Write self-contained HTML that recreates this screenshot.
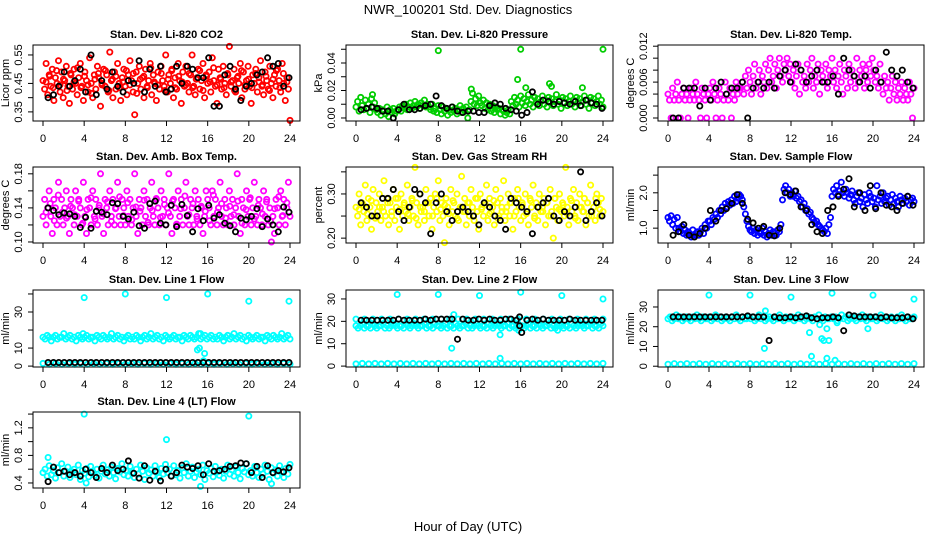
<!DOCTYPE html>
<html><head><meta charset="utf-8">
<style>
html,body{margin:0;padding:0;background:#fff;}
svg{display:block;font-family:"Liberation Sans",sans-serif;}
</style></head>
<body>
<svg id="chart" width="936" height="540" viewBox="0 0 936 540" xmlns="http://www.w3.org/2000/svg">
<rect width="936" height="540" fill="#fff"/>
<text x="468" y="14" text-anchor="middle" font-size="13">NWR_100201 Std. Dev. Diagnostics</text>
<text x="468" y="531" text-anchor="middle" font-size="13">Hour of Day (UTC)</text>
<g id="panels"></g>
</svg>
<script>
// ---------- data ----------
const xTicks = [0,4,8,12,16,20,24];

const co2Red = [.46,.43,.52,.41,.48,.44,.50,.39,.47,.45,.53,.42,.49,.40,.46,.51,.44,.38,.48,.43,
.50,.45,.41,.47,.52,.44,.39,.49,.46,.42,.54,.45,.40,.48,.43,.51,.47,.37,.45,.50,
.44,.48,.42,.56,.46,.40,.49,.43,.52,.45,.39,.47,.50,.44,.41,.48,.53,.46,.42,.34,
.49,.45,.51,.43,.47,.40,.50,.44,.46,.52,.41,.48,.45,.39,.49,.43,.51,.46,.44,.55,
.42,.48,.45,.50,.40,.47,.43,.52,.46,.38,.49,.44,.51,.45,.42,.48,.55,.44,.41,.47,
.50,.43,.46,.52,.40,.48,.45,.49,.42,.54,.46,.44,.38,.50,.47,.43,.51,.45,.41,.48,
.58,.44,.46,.50,.42,.47,.45,.52,.40,.49,.43,.46,.51,.44,.38,.48,.45,.50,.42,.47,
.53,.44,.41,.49,.46,.43,.51,.45,.40,.48,.44,.50,.46,.42,.52,.45,.39,.47,.43,.32];
const co2Red2 = [.455,.475,.435,.495,.445,.465,.425,.485,.455,.505,.435,.475,.445,.415,.465,.485,.445,.495,.425,.465,
.475,.435,.455,.495,.445,.485,.415,.465,.475,.435,.505,.455,.445,.485,.425,.465,.495,.435,.475,.455,
.445,.485,.435,.465,.495,.425,.475,.455,.505,.445,.465,.435,.485,.455,.425,.475,.495,.445,.465,.435,
.485,.455,.445,.475,.425,.465,.495,.435,.485,.455];
const co2Black = [.40,.41,.44,.49,.44,.46,.50,.42,.55,.41,.46,.43,.49,.44,.42,.46,.45,.53,.42,.50,.44,.51,.42,.43,.51,.45,.51,.50,.47,.47,.54,.37,.37,.48,.51,.43,.39,.44,.45,.48,.49,.54,.51,.52,.44,.47];

const presGreen = [.008,.012,.005,.015,.009,.006,.013,.007,.010,.004,.014,.008,.011,.006,
.004,.007,.002,.006,.005,.003,.008,.001,.006,.004,.007,.003,.005,
.006,.008,.005,.009,.007,.010,.006,.008,.011,.007,.009,.012,.008,.010,.007,.011,.009,.013,.008,.010,
.008,.006,.010,.005,.007,.004,.009,.006,.003,.008,.005,.007,.002,.006,.004,.008,.005,.007,.003,.006,.009,.004,.007,.005,.008,.000,.006,
.012,.018,.010,.014,.009,.016,.011,
.009,.013,.007,.011,.006,.010,.005,.009,.004,.008,.006,.007,.003,.006,.005,.002,.004,.006,.003,
.012,.009,.015,.010,.013,.008,.016,.011,.014,.009,.012,.017,.010,.013,.008,.015,.011,.014,.009,.012,.016,.010,.013,.008,.015,.011,.014,.009,.012,.017,.010,.013,.007,.015,.011,.014,.009,.012,.016,.010,.013,.008,.015,.011,.014,.009,.012,.016,.010,.013,.007,.015,.011,.014,.009,.012,.016,.010,.013,.008];
const presOutHours = [8,15.7,16,18.8,19,22,24,11.2,1.6,16.5];
const presOutVals = [.049,.028,.050,.025,.023,.022,.050,.021,.017,.022];
const presBlack = [.006,.007,.008,.007,.005,.005,.000,.006,.010,.006,.006,.007,.009,.010,.016,.009,.007,.008,.005,.004,.005,.005,.004,.004,.009,.011,.010,.007,.006,.005,.002,.004,.019,.010,.013,.012,.010,.012,.011,.010,.012,.009,.013,.011,.010,.007];

const tempMag = [.004,.003,.000,.005,.003,.004,.006,.003,.000,.004,.005,.003,.004,.000,.003,.005,.004,.003,.006,.004,.003,.000,.005,.004,.003,.000,.004,.005,.003,.006,.004,.000,.003,.005,.004,.000,.003,.006,.004,.003,.005,.000,.004,.003,.006,.004,.005,
.005,.006,.004,.007,.005,.008,.006,.004,.007,.009,.005,.006,.008,.004,.007,.006,.009,.005,.008,.010,.006,.007,.009,.005,.008,.010,.007,.006,.009,.008,.010,.007,.009,
.006,.008,.005,.007,.009,.004,.008,.006,.007,.005,.009,.006,.008,.010,.005,.007,.006,.009,.004,.008,.007,.006,.009,.005,.008,.007,.010,.006,.008,.005,.007,.009,.006,.004,.008,.007,.005,.009,.006,.008,.007,.005,.010,.006,.008,.007,.009,.005,.008,.006,.009,.007,.010,
.008,.006,.007,.005,.009,.006,.004,.007,.005,.006,.003,.005,.007,.004,.006,.003,.005,.004,.006,.003,.005,.004,.003,.006,.004,.000,.005];
const tempBlack = [.000,.000,.005,.005,.005,.002,.005,.003,.005,.006,.004,.005,.005,.006,.000,.005,.006,.005,.006,.005,.007,.008,.006,.009,.008,.006,.007,.008,.006,.006,.007,.004,.010,.008,.007,.006,.007,.005,.008,.006,.011,.008,.007,.008,.006,.005];

const ambMag = [.13,.15,.12,.14,.16,.13,.11,.15,.14,.12,.17,.13,.15,.12,.14,.16,.13,.11,.15,.14,
.12,.16,.13,.15,.14,.12,.17,.13,.11,.15,.14,.12,.16,.13,.15,.12,.14,.18,.13,.11,
.15,.14,.12,.16,.13,.15,.12,.14,.17,.13,.12,.15,.14,.12,.16,.13,.15,.12,.14,.18,
.13,.11,.15,.14,.12,.16,.13,.15,.12,.14,.17,.13,.12,.15,.14,.12,.16,.13,.15,.12,
.14,.18,.13,.11,.15,.14,.12,.16,.13,.15,.12,.14,.17,.13,.12,.15,.14,.12,.16,.13,
.15,.12,.14,.11,.13,.16,.15,.14,.12,.16,.13,.15,.12,.14,.17,.13,.12,.15,.14,.12,
.16,.13,.15,.12,.14,.18,.13,.11,.15,.14,.12,.16,.13,.15,.12,.14,.17,.13,.12,.15,
.14,.12,.16,.13,.15,.12,.14,.10,.13,.11,.15,.14,.12,.16,.13,.15,.12,.14,.17,.13];
const ambMag2 = [.135,.145,.125,.155,.135,.128,.142,.132,.148,.122,.138,.152,.127,.143,.133,.147,.124,.139,.153,.131,.146,.126,.141,.136,.149,.123,.137,.151,.129,.144,.134,.148,.121,.139,.154,.132,.145,.127,.142,.136,
.125,.155,.135,.145,.128,.142,.132,.148,.122,.138,.152,.127,.143,.133,.147,.124,.139,.153,.131,.146];
const ambBlack = [.140,.137,.132,.134,.133,.130,.117,.129,.116,.136,.135,.132,.146,.145,.130,.127,.135,.119,.116,.145,.148,.122,.120,.143,.118,.144,.131,.112,.139,.125,.143,.128,.132,.122,.119,.112,.128,.126,.130,.139,.118,.127,.120,.112,.141,.135];

const rhYellow = [.27,.25,.30,.23,.28,.26,.32,.24,.29,.27,.22,.31,.25,.28,.26,.30,.24,.27,.33,.25,
.29,.23,.28,.26,.31,.24,.27,.29,.22,.30,.25,.28,.26,.32,.24,.27,.29,.25,.36,.28,
.23,.30,.26,.27,.24,.31,.28,.25,.29,.22,.27,.30,.26,.33,.24,.28,.25,.19,.29,.27,
.23,.31,.26,.28,.25,.30,.24,.27,.34,.26,.29,.23,.28,.25,.31,.27,.24,.29,.26,.22,
.30,.27,.25,.28,.32,.24,.29,.26,.27,.23,.31,.28,.25,.29,.26,.33,.24,.27,.30,.25,
.28,.22,.29,.26,.31,.27,.24,.28,.25,.30,.26,.23,.29,.27,.32,.25,.28,.24,.30,.26,
.27,.29,.23,.28,.25,.31,.26,.20,.29,.27,.24,.30,.26,.28,.25,.36,.27,.23,.29,.26,
.31,.25,.28,.24,.30,.27,.26,.29,.23,.28,.25,.32,.26,.27,.24,.30,.28,.25,.29,.26];
const rhYellow2 = [.265,.275,.255,.285,.245,.27,.26,.28,.25,.29,.265,.275,.255,.285,.245,.27,.26,.28,.25,.29,.265,.275,.255,.285,.245,.27,.26,.28,.25,.29,.265,.275,.255,.285,.245,.27,.26,.28,.25,.29,
.275,.255,.285,.245,.27,.26,.28,.25,.29,.265,.275,.255,.285,.245,.27,.26,.28,.25,.29,.265];
const rhBlack = [.28,.27,.25,.25,.29,.29,.31,.26,.24,.27,.31,.30,.28,.21,.28,.30,.26,.24,.26,.27,.26,.25,.23,.28,.27,.25,.24,.22,.29,.28,.27,.26,.21,.27,.28,.29,.25,.24,.26,.25,.27,.35,.24,.26,.28,.25];

const flowBlue = [1.3,1.2,1.35,1.1,1.25,1.0,1.3,
1.0,0.9,1.05,0.85,0.95,0.8,0.9,0.85,0.75,0.95,0.8,0.85,0.9,0.8,
0.9,1.0,0.85,1.1,1.0,1.2,
1.2,1.1,1.3,1.25,1.4,1.3,1.5,1.4,1.6,1.5,1.7,1.6,1.75,1.65,1.8,1.7,1.9,1.75,1.85,1.95,
1.9,1.8,1.6,1.4,1.2,1.05,
0.95,0.9,1.0,0.85,0.95,0.8,0.9,0.85,1.0,0.8,0.9,0.75,0.85,0.95,0.8,0.9,0.85,0.8,0.95,0.9,1.1,
1.8,2.1,2.2,2.0,2.1,1.9,
2.0,1.9,2.05,1.85,1.9,1.75,1.8,1.6,1.7,1.5,1.55,1.4,1.45,1.3,1.25,1.15,1.2,1.1,1.05,1.0,
0.95,0.9,1.0,0.85,1.1,1.3,
1.9,2.1,2.0,2.2,1.95,2.05,2.3,2.0,1.9,2.1,2.0,1.85,1.95,2.05,1.8,1.7,1.9,2.0,1.75,1.85,1.6,1.95,1.8,1.7,2.0,1.9,1.75,1.85,1.6,2.2,1.8,1.9,1.7,2.0,1.75,1.85,1.9,1.65,1.8,1.95,1.7,1.85,1.75,1.6,1.9,1.8,1.7,1.85,1.75,1.9,1.65,1.8,1.85,1.75];
const flowBlack = [0.8,0.9,1.1,0.8,0.75,0.85,1.0,1.5,1.2,1.5,1.55,1.7,1.95,1.7,1.25,1.15,1.0,1.05,0.8,0.78,1.0,2.0,1.95,2.05,1.6,1.5,1.1,0.9,0.85,1.5,1.6,1.9,2.1,2.4,1.6,2.0,1.5,2.2,1.55,2.0,1.65,1.6,1.5,1.7,1.9,1.65];

const l1Main = [16,15,17,16,14,16,17,15,16,16,18,15,16,17,15,16,14,17,16,15,16,17,15,16,16,14,17,16,15,17,16,15,16,18,15,16,17,15,16,14,
16,17,15,16,15,17,16,14,16,17,15,16,18,15,16,17,15,16,14,17,16,15,16,17,15,16,16,14,17,16,15,17,16,15,16,18,15,16,17,15,
16,17,15,16,15,17,16,14,16,17,15,16,18,15,16,17,15,16,14,17,16,15,16,17,15,16,16,14,17,16,15,17,16,15,16,18,15,16,17,15];
const l1Low = [1.5,1,1.5,1,1.5,1,1.5,1,1.5,1,1.5,1,1.5,1,1.5,1,1.5,1,1.5,1,1.5,1,1.5,1,1.5,1,1.5,1,1.5,1,1.5,1,1.5,1,1.5,1,1.5,1,1.5,1];
const l1OutHours = [4,8,12,16,20,23.9,15,15.2,15.7,15.6,3.9,15.3];
const l1OutVals = [38,40,38,40,36,36,9,10,7,3,18,18];
const l1Black = [2,2,2,2,2,2,2,2,2,2,2,2,2,2,2,2,2,2,2,2,2,2,2,2,2,2,2,2,2,2,2,2,2,2,2,2,2,2,2,2,2,2,2,2,2,2];

const l2Main = [18,17,18,19,17,18,18,17,19,18,17,18,18,19,17,18,17,18,19,18,17,18,18,17,19,18,17,18,19,18,17,18,18,19,17,18,18,17,19,18,
18,17,18,19,17,18,18,17,19,18,17,18,18,19,17,18,17,18,19,18,17,18,18,17,19,18,17,18,19,18,17,18,18,19,17,18,18,17,19,18,
18,17,18,19,17,18,18,17,19,18,17,18,18,19,17,18,17,18,19,18,17,18,18,17,19,18,17,18,19,18,17,18,18,19,17,18,18,17,19,18];
const l2Upper = [21,21,21,21,21,21,21,21,21,21,21,21,21,21,21,21,21,21,21,21,21,21,21,21,21,21,21,21,21,21];
const l2Low = [1,1.2,1,1.2,1,1.2,1,1.2,1,1.2,1,1.2,1,1.2,1,1.2,1,1.2,1,1.2,1,1.2,1,1.2,1,1.2,1,1.2,1,1.2,1,1.2,1,1.2,1,1.2,1,1.2,1,1.2];
const l2OutHours = [4,8,9.5,9.3,12,14,14,15.8,16,19.6,20,24];
const l2OutVals = [32,32,23,8,31.5,14,3.5,16,33,16,31.5,30];
const l2Black = [20.5,20.5,20.5,20.5,20.5,20.5,20.5,21,20.5,20.5,20.5,20.5,21,20.5,21,21,21,21,12,21,20.5,20.5,21,20.5,21,20.5,20.5,21,21,20.5,15,20.5,21,20.5,21,20.5,20.5,20.5,20.5,21,20.5,20.5,20.5,20.5,20.5,20.5];
const l2BlackOutHours = [15.9,15.9];
const l2BlackOutVals = [18,22];

const l3Main = [24,25,23,24,26,24,25,23,24,25,24,23,25,24,26,24,23,25,24,24,25,23,24,26,24,25,23,24,25,24,23,25,24,26,24,23,25,24,24,25,
24,25,23,24,26,24,25,23,24,25,24,23,25,24,26,24,23,25,24,24,25,23,24,26,24,25,23,24,25,24,23,25,24,26,24,23,25,24,24,25,
24,25,23,24,26,24,25,23,24,25,24,23,25,24,26,24,23,25,24,24,25,23,24,26,24,25,23,24,25,24,23,25,24,26,24,23,25,24,24,25];
const l3Low = [1,1.3,1,1.3,1,1.3,1,1.3,1,1.3,1,1.3,1,1.3,1,1.3,1,1.3,1,1.3,1,1.3,1,1.3,1,1.3,1,1.3,1,1.3,1,1.3,1,1.3,1,1.3,1,1.3,1,1.3];
const l3OutHours = [4,8,9.5,9.4,12,13.8,14,14.8,15,15.2,15.5,15.5,15.7,16,16.3,16.5,19.5,20,24];
const l3OutVals = [36,36,28,9,35,17,5,21,14,13,19,4,13,37,3,22,19,36,34];
const l3Black = [25,25,25,25,25,25,25,25,25,25,25,25,25,25,25.5,25,25,25,13,25,24.5,24.5,25,24.5,25,25.5,24.5,24,24.5,24.5,25,24.5,18,26,25.5,25,25,25,25,24.5,25,24.5,24.5,24.5,25,24];

const l4Main = [0.55,0.60,0.50,0.65,0.52,0.58,0.47,0.62,0.55,0.68,0.50,0.57,0.63,0.48,0.56,0.60,0.52,0.66,0.45,0.58,
0.54,0.61,0.49,0.64,0.56,0.51,0.60,0.47,0.57,0.66,0.53,0.59,0.50,0.63,0.55,0.46,0.61,0.56,0.68,0.52,
0.58,0.50,0.64,0.55,0.48,0.60,0.53,0.66,0.57,0.45,0.62,0.54,0.59,0.50,0.65,0.56,0.48,0.61,0.53,0.67,
0.55,0.60,0.50,0.65,0.52,0.58,0.47,0.62,0.55,0.68,0.50,0.57,0.63,0.48,0.56,0.60,0.52,0.66,0.45,0.58,
0.54,0.61,0.49,0.64,0.56,0.51,0.60,0.47,0.57,0.66,0.53,0.59,0.50,0.63,0.55,0.46,0.61,0.56,0.68,0.52,
0.58,0.50,0.64,0.55,0.48,0.60,0.53,0.66,0.57,0.45,0.62,0.54,0.59,0.50,0.65,0.56,0.48,0.61,0.53,0.67];
const l4OutHours = [4,12,20,15.3,0.5,4.2,22.2];
const l4OutVals = [1.40,1.03,1.37,0.35,0.77,0.40,0.39];
const l4Black = [0.42,0.63,0.55,0.57,0.52,0.55,0.50,0.60,0.55,0.48,0.61,0.55,0.66,0.58,0.60,0.72,0.54,0.47,0.65,0.44,0.57,0.43,0.60,0.50,0.55,0.66,0.63,0.61,0.65,0.52,0.68,0.57,0.58,0.60,0.64,0.65,0.69,0.68,0.55,0.64,0.48,0.65,0.55,0.58,0.56,0.62];

// ---------- layout ----------
const COLS = [{x0:43,x1:290,bl:33,br:300},{x0:356,x1:603,bl:346,br:613},{x0:668,x1:914,bl:658,br:924}];
const ROWS = [{top:45,bot:121},{top:167,bot:243},{top:290,bot:367},{top:412,bot:488}];

const RED='#ff0000',GRN='#00cd00',MAG='#ff00ff',YEL='#ffff00',BLU='#0000ff',CYN='#00ffff',BLK='#000000';
const even = (n,a,b)=>Array.from({length:n},(_,i)=>a+(b-a)*i/(n-1));

const panels = [
 {name:'co2',title:'Stan. Dev. Li-820 CO2',ylab:'Licor ppm',c:0,r:0,ymin:0.318,ymax:0.585,ticks:[0.35,0.40,0.45,0.50,0.55],labels:['0.35','','0.45','','0.55'],
  series:[{v:co2Red,col:RED},{v:co2Red2,col:RED,a:0.3,b:23.7},{v:co2Black,col:BLK,a:0.5,b:23.9}]},
 {name:'pressure',title:'Stan. Dev. Li-820 Pressure',ylab:'kPa',c:1,r:0,ymin:-0.0022,ymax:0.0531,ticks:[0,0.01,0.02,0.03,0.04,0.05],labels:['0.00','','0.02','','0.04',''],
  series:[{v:presGreen,col:GRN},{v:presOutVals,h:presOutHours,col:GRN},{v:presBlack,col:BLK,a:0.5,b:23.9}]},
 {name:'temp',title:'Stan. Dev. Li-820 Temp.',ylab:'degrees C',c:2,r:0,ymin:-0.0005,ymax:0.0122,ticks:[0,0.002,0.004,0.006,0.008,0.010,0.012],labels:['0.000','','','0.006','','','0.012'],
  series:[{v:tempMag,col:MAG},{v:tempBlack,col:BLK,a:0.5,b:23.9}]},
 {name:'amb-temp',title:'Stan. Dev. Amb. Box Temp.',ylab:'degrees C',c:0,r:1,ymin:0.0988,ymax:0.188,ticks:[0.10,0.12,0.14,0.16,0.18],labels:['0.10','','0.14','','0.18'],
  series:[{v:ambMag,col:MAG},{v:ambMag2,col:MAG,a:0.3,b:23.7},{v:ambBlack,col:BLK,a:0.5,b:23.9}]},
 {name:'rh',title:'Stan. Dev. Gas Stream RH',ylab:'percent',c:1,r:1,ymin:0.189,ymax:0.361,ticks:[0.20,0.25,0.30,0.35],labels:['0.20','','0.30',''],
  series:[{v:rhYellow,col:YEL},{v:rhYellow2,col:YEL,a:0.3,b:23.7},{v:rhBlack,col:BLK,a:0.5,b:23.9}]},
 {name:'sample-flow',title:'Stan. Dev. Sample Flow',ylab:'ml/min',c:2,r:1,ymin:0.58,ymax:2.73,ticks:[1.0,1.5,2.0,2.5],labels:['1.0','','2.0',''],
  series:[{v:flowBlue,col:BLU},{v:flowBlack,col:BLK,a:0.5,b:23.9}]},
 {name:'line1-flow',title:'Stan. Dev. Line 1 Flow',ylab:'ml/min',c:0,r:2,ymin:-0.5,ymax:42.2,ticks:[0,10,20,30,40],labels:['0','10','','30',''],
  series:[{v:l1Main,col:CYN},{v:l1Low,col:CYN},{v:l1OutVals,h:l1OutHours,col:CYN},{v:l1Black,col:BLK,a:0.5,b:23.9}]},
 {name:'line2-flow',title:'Stan. Dev. Line 2 Flow',ylab:'ml/min',c:1,r:2,ymin:-0.4,ymax:34,ticks:[0,10,20,30],labels:['0','10','20','30'],
  series:[{v:l2Main,col:CYN},{v:l2Upper,col:CYN},{v:l2Low,col:CYN},{v:l2OutVals,h:l2OutHours,col:CYN},{v:l2Black,col:BLK,a:0.5,b:23.9},{v:l2BlackOutVals,h:l2BlackOutHours,col:BLK}]},
 {name:'line3-flow',title:'Stan. Dev. Line 3 Flow',ylab:'ml/min',c:2,r:2,ymin:-0.4,ymax:38.6,ticks:[0,10,20,30],labels:['0','10','20','30'],
  series:[{v:l3Main,col:CYN},{v:l3Low,col:CYN},{v:l3OutVals,h:l3OutHours,col:CYN},{v:l3Black,col:BLK,a:0.5,b:23.9}]},
 {name:'line4-flow',title:'Stan. Dev. Line 4 (LT) Flow',ylab:'ml/min',c:0,r:3,ymin:0.327,ymax:1.43,ticks:[0.4,0.6,0.8,1.0,1.2,1.4],labels:['0.4','','0.8','','1.2',''],
  series:[{v:l4Main,col:CYN},{v:l4OutVals,h:l4OutHours,col:CYN},{v:l4Black,col:BLK,a:0.5,b:23.9}]}
];

const NS='http://www.w3.org/2000/svg';
function mk(tag,attrs,parent){const e=document.createElementNS(NS,tag);for(const k in attrs)e.setAttribute(k,attrs[k]);parent.appendChild(e);return e;}
const root=document.getElementById('panels');

panels.forEach(p=>{
  const C=COLS[p.c],R=ROWS[p.r];
  const xS=h=>C.x0+(C.x1-C.x0)*h/24;
  const yS=v=>R.bot-(R.bot-R.top)*(v-p.ymin)/(p.ymax-p.ymin);
  const g=mk('g',{},root);
  
  
  const t=mk('text',{x:(C.bl+C.br)/2,y:R.top-7,'text-anchor':'middle','font-size':'11','font-weight':'bold'},g);
  t.textContent=p.title;
  
  
  const pts=mk('g',{fill:'none','stroke-width':'1.8'},g);
  
  
  p.series.forEach(s=>{
    const hours = s.h ? s.h : even(s.v.length, s.a!==undefined?s.a:0, s.b!==undefined?s.b:24);
    s.v.forEach((v,i)=>{
      const c=mk('circle',{cx:xS(hours[i]).toFixed(1),cy:yS(v).toFixed(1),r:'2.6',stroke:s.col},pts);
      
      
    });
  });
  const box=mk('rect',{x:C.bl,y:R.top,width:C.br-C.bl,height:R.bot-R.top,fill:'none',stroke:'#000','stroke-width':'1'},g);
  
  
  const xa=mk('g',{},g);
  
  
  mk('line',{x1:xS(0),x2:xS(24),y1:R.bot,y2:R.bot,stroke:'#000'},xa);
  xTicks.forEach(h=>{
    mk('line',{x1:xS(h),x2:xS(h),y1:R.bot,y2:R.bot+5,stroke:'#000'},xa);
    const tx=mk('text',{x:xS(h),y:R.bot+21,'text-anchor':'middle','font-size':'11'},xa);
    tx.textContent=String(h);
    
    
  });
  const ya=mk('g',{},g);
  
  
  mk('line',{x1:C.bl,x2:C.bl,y1:yS(p.ticks[0]),y2:yS(p.ticks[p.ticks.length-1]),stroke:'#000'},ya);
  p.ticks.forEach((v,i)=>{
    const y=yS(v);
    mk('line',{x1:C.bl-5,x2:C.bl,y1:y,y2:y,stroke:'#000'},ya);
    if(p.labels[i]){
      const tx=mk('text',{x:0,y:0,transform:`translate(${C.bl-11},${y}) rotate(-90)`,'text-anchor':'middle','font-size':'11'},ya);
      tx.textContent=p.labels[i];
      
      
    }
  });
  const yt=mk('text',{x:0,y:0,transform:`translate(${C.bl-24},${(R.top+R.bot)/2}) rotate(-90)`,'text-anchor':'middle','font-size':'11'},g);
  yt.textContent=p.ylab;
  
  
});
</script>
</body></html>
